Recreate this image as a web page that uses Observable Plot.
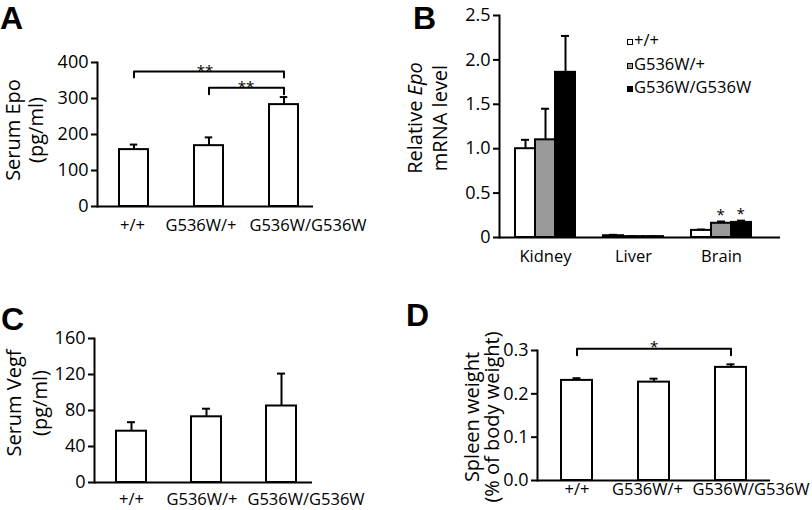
<!DOCTYPE html>
<html>
<head>
<meta charset="utf-8">
<script src="https://cdn.jsdelivr.net/npm/d3@7"></script>
<script src="https://cdn.jsdelivr.net/npm/@observablehq/plot@0.6"></script>
<style>
  html, body { margin: 0; padding: 0; background: white; }
  #root { position: relative; width: 812px; height: 510px; overflow: hidden; background: white; font-family: "Open Sans", sans-serif; color: black; }
  .panel { position: absolute; }
  .letter { position: absolute; font-family: "Liberation Sans", Arial, sans-serif; font-weight: bold; font-size: 32px; line-height: normal; }
  .ylab { position: absolute; transform: translate(-50%, -50%) rotate(-90deg); white-space: nowrap; text-align: center; font-size: 20px; font-family: "Open Sans", sans-serif; }
  #legend { position: absolute; left: 627px; top: 28px; font-size: 16.5px; line-height: 23.5px; white-space: nowrap; }
  .sw { display: inline-block; width: 4px; height: 4px; border: 1.5px solid black; margin-right: 1px; vertical-align: 1px; }
</style>
</head>
<body>
<div id="root">
  <div class="letter" style="left:0px;top:0px">A</div>
  <div class="letter" style="left:413px;top:0px">B</div>
  <div class="letter" style="left:1px;top:301px">C</div>
  <div class="letter" style="left:406px;top:297px">D</div>
  <div class="ylab" style="left:24px;top:130px;line-height:23px">Serum Epo<br>(pg/ml)</div>
  <div class="ylab" style="left:427px;top:118px;line-height:25px">Relative <i>Epo</i><br>mRNA level</div>
  <div class="ylab" style="left:27px;top:403px;line-height:26px">Serum Vegf<br>(pg/ml)</div>
  <div class="ylab" style="left:482px;top:417px;line-height:20px">Spleen weight<br>(% of body weight)</div>
  <div id="legend"></div>
</div>
<script>
// ---- data ----
const genotypes = ["+/+", "G536W/+", "G536W/G536W"];

// Panel A: serum Epo (pg/ml)
const epoMean = [158, 169, 283];
const epoSem = [14, 23, 21];
const epoTicks = [0, 100, 200, 300, 400];

// Panel B: relative Epo mRNA level
const tissues = ["Kidney", "Liver", "Brain"];
const mrnaWT = [1.00, 0.02, 0.08];
const mrnaWTSem = [0.10, 0.01, 0.01];
const mrnaHet = [1.10, 0.01, 0.16];
const mrnaHetSem = [0.35, 0.003, 0.02];
const mrnaHom = [1.86, 0.01, 0.17];
const mrnaHomSem = [0.41, 0.003, 0.02];
const seriesColors = ["white", "#9a9a9a", "black"];
const mrnaTicks = [0, 0.5, 1, 1.5, 2, 2.5];
const brainStars = ["G536W/+", "G536W/G536W"];

// Panel C: serum Vegf (pg/ml)
const vegfMean = [57, 73, 85];
const vegfSem = [10, 9, 36];
const vegfTicks = [0, 40, 80, 120, 160];

// Panel D: spleen weight (% of body weight)
const spleenMean = [0.231, 0.227, 0.261];
const spleenSem = [0.005, 0.008, 0.007];
const spleenTicks = [0, 0.1, 0.2, 0.3];

// significance brackets
const epoBrackets = [
  {from: "+/+", to: "G536W/G536W", y: 375, foot: 358, label: "**"},
  {from: "G536W/+", to: "G536W/G536W", y: 330, foot: 312, label: "**"}
];
const spleenBrackets = [
  {from: "+/+", to: "G536W/G536W", y: 0.304, foot: 0.289, label: "*"}
];

// ---- helpers ----
const root = document.getElementById("root");
const FONT = '"Open Sans", sans-serif';

function table(means, sems) {
  return genotypes.map((g, i) => ({g, mean: means[i], sem: sems[i], top: means[i] + sems[i]}));
}
function bracketPoints(brackets) {
  const pts = [];
  brackets.forEach((b, i) => {
    pts.push({id: i, x: b.from, y: b.foot});
    pts.push({id: i, x: b.from, y: b.y});
    pts.push({id: i, x: b.to, y: b.y});
    pts.push({id: i, x: b.to, y: b.foot});
  });
  return pts;
}
function place(svg, left, top) {
  svg.classList.add("panel");
  svg.style.left = left + "px";
  svg.style.top = top + "px";
  root.appendChild(svg);
}

function simplePanel(cfg) {
  const data = table(cfg.means, cfg.sems);
  const capInset = (cfg.bw - 8) / 2;
  const marks = [
    Plot.barY(data, {x: "g", y: "mean", fill: "white", stroke: "black", strokeWidth: 2}),
    Plot.ruleX(data, {x: "g", y1: "mean", y2: "top", stroke: "black", strokeWidth: 2}),
    Plot.tickY(data, {x: "g", y: "top", stroke: "black", strokeWidth: 2, insetLeft: capInset, insetRight: capInset}),
    Plot.ruleY([0], {stroke: "black", strokeWidth: 2}),
    Plot.frame({anchor: "left", stroke: "black", strokeWidth: 2}),
    Plot.axisY({ticks: cfg.ticks, tickFormat: cfg.tickFormat, tickSize: 6, tickPadding: 3, strokeWidth: 2, fontSize: 18, label: null})
  ];
  // category labels, each nudged like the original figure's
  genotypes.forEach((g, i) => {
    marks.push(Plot.axisX({ticks: [g], tickSize: 0, tickPadding: cfg.xPad, fontSize: 16.5, label: null, dx: cfg.labelDx[i]}));
  });
  if (cfg.brackets) {
    marks.push(Plot.line(bracketPoints(cfg.brackets), {x: "x", y: "y", z: "id", stroke: "black", strokeWidth: 2}));
    cfg.starMarks.forEach(s => marks.push(Plot.text([cfg.brackets[s.i]], {x: () => "G536W/+", y: "y", text: "label", fontSize: 15, dx: s.dx, dy: s.dy})));
  }
  return Plot.plot({
    width: cfg.width, height: cfg.height,
    marginLeft: cfg.ml, marginRight: cfg.mr, marginTop: cfg.mt, marginBottom: cfg.mb,
    style: {fontFamily: FONT, fontSize: "16px", color: "black", background: "transparent", overflow: "visible"},
    x: {domain: genotypes, range: cfg.xRange, paddingInner: 1 - cfg.bw / cfg.step, paddingOuter: (1 - cfg.bw / cfg.step) / 2},
    y: {domain: cfg.yDomain},
    marks
  });
}

// ---- Panel A ----
place(simplePanel({
  means: epoMean, sems: epoSem, ticks: epoTicks, tickFormat: d => String(d),
  width: 400, height: 260, ml: 97, mr: 87, mt: 62, mb: 54,
  step: 75.25, bw: 29.5, xRange: [95.9, 321.6], yDomain: [0, 400], xPad: 13,
  labelDx: [-1.5, -8, 24],
  brackets: epoBrackets,
  starMarks: [{i: 0, dx: -4, dy: 0}, {i: 1, dx: 37, dy: -1}]
}), 0, 0);

// ---- Panel C ----
place(simplePanel({
  means: vegfMean, sems: vegfSem, ticks: vegfTicks, tickFormat: d => String(d),
  width: 400, height: 250, ml: 94, mr: 88, mt: 78, mb: 28,
  step: 75.25, bw: 30, xRange: [93.4, 319.1], yDomain: [0, 160], xPad: 11,
  labelDx: [0, -4.5, 24.5]
}), 0, 260);

// ---- Panel D ----
place(simplePanel({
  means: spleenMean, sems: spleenSem, ticks: spleenTicks, tickFormat: d => d.toFixed(1),
  width: 412, height: 250, ml: 137, mr: 42, mt: 90, mb: 30,
  step: 77.25, bw: 31, xRange: [137.9, 369.6], yDomain: [0, 0.3], xPad: 3,
  labelDx: [0, -6.5, 20],
  brackets: spleenBrackets,
  starMarks: [{i: 0, dx: 0, dy: -2}]
}), 400, 260);

// ---- Panel B ----
(function () {
  const series = [
    {name: genotypes[0], means: mrnaWT, sems: mrnaWTSem},
    {name: genotypes[1], means: mrnaHet, sems: mrnaHetSem},
    {name: genotypes[2], means: mrnaHom, sems: mrnaHomSem}
  ];
  const step = 88, bw = 60, sub = bw / 3;
  const marks = [];
  series.forEach((s, i) => {
    const data = tissues.map((t, j) => ({t, mean: s.means[j], top: s.means[j] + s.sems[j]}));
    marks.push(Plot.barY(data, {x: "t", y: "mean", fill: seriesColors[i], stroke: "black", strokeWidth: 2,
      insetLeft: i * sub, insetRight: (2 - i) * sub}));
    marks.push(Plot.ruleX(data, {x: "t", y1: "mean", y2: "top", stroke: "black", strokeWidth: 2, dx: (i - 1) * sub}));
    marks.push(Plot.tickY(data, {x: "t", y: "top", stroke: "black", strokeWidth: 2,
      insetLeft: i * sub + 6, insetRight: (2 - i) * sub + 6}));
    if (brainStars.includes(s.name)) {
      const j = tissues.indexOf("Brain");
      marks.push(Plot.text([{t: "Brain", top: s.means[j] + s.sems[j]}], {x: "t", y: "top", text: () => "*", fontSize: 15, dx: (i - 1) * sub - 1, dy: -6}));
    }
  });
  marks.push(
    Plot.ruleY([0], {stroke: "black", strokeWidth: 2}),
    Plot.frame({anchor: "left", stroke: "black", strokeWidth: 2}),
    Plot.axisY({ticks: mrnaTicks, tickFormat: d => d === 0 ? "0" : d.toFixed(1), tickSize: 6, tickPadding: 3, strokeWidth: 2, fontSize: 18, label: null}),
    Plot.axisX({tickSize: 0, tickPadding: 13, fontSize: 16.5, label: null})
  );
  const svg = Plot.plot({
    width: 412, height: 270, marginLeft: 99, marginRight: 32, marginTop: 15, marginBottom: 33,
    style: {fontFamily: FONT, fontSize: "16px", color: "black", background: "transparent", overflow: "visible"},
    x: {domain: tissues, range: [101, 365], paddingInner: 1 - bw / step, paddingOuter: (1 - bw / step) / 2},
    y: {domain: [0, 2.5]},
    marks
  });
  place(svg, 400, 0);

  // legend
  const legend = document.getElementById("legend");
  series.forEach((s, i) => {
    const row = document.createElement("div");
    const sw = document.createElement("span");
    sw.className = "sw";
    sw.style.background = seriesColors[i];
    row.appendChild(sw);
    row.appendChild(document.createTextNode(s.name));
    legend.appendChild(row);
  });
})();
</script>
</body>
</html>
